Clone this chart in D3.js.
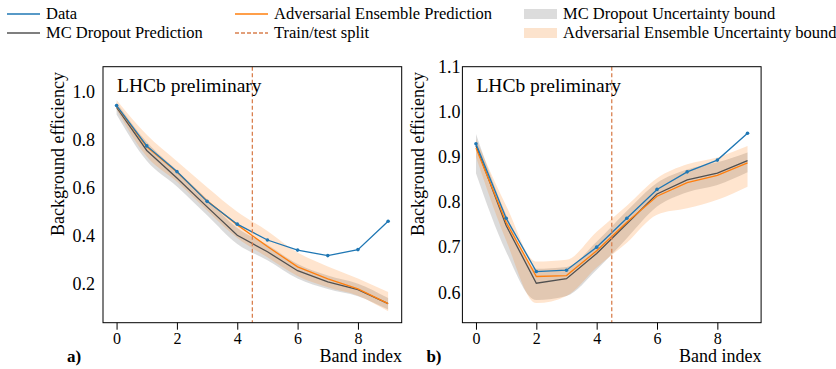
<!DOCTYPE html>
<html><head><meta charset="utf-8">
<script src="https://cdn.jsdelivr.net/npm/d3@7/dist/d3.min.js"></script>
<style>body{margin:0;background:#fff}svg{display:block}svg text{font-family:'Liberation Serif','Times New Roman',Times,'DejaVu Serif',serif !important}</style>
</head><body><svg id="c" width="836" height="369"></svg>
<script>
const bands = [0,1,2,3,4,5,6,7,8,9];
const xTicks = [0,2,4,6,8];
const splitAt = 4.5;
// panel a
const aData   = [0.942,0.774,0.667,0.543,0.448,0.382,0.340,0.317,0.342,0.460];
const aMC     = [0.935,0.755,0.640,0.520,0.402,0.333,0.254,0.208,0.175,0.117];
const aMCLo   = [0.905,0.712,0.605,0.485,0.365,0.298,0.222,0.178,0.148,0.092];
const aMCHi   = [0.955,0.790,0.672,0.552,0.432,0.362,0.282,0.234,0.200,0.140];
const aAdv    = [0.940,0.770,0.665,0.545,0.445,0.355,0.270,0.220,0.178,0.117];
const aAdvLo  = [0.925,0.730,0.625,0.505,0.390,0.310,0.232,0.185,0.150,0.085];
const aAdvHi  = [0.965,0.820,0.710,0.602,0.500,0.420,0.330,0.272,0.222,0.165];
const aYTicks = [0.2,0.4,0.6,0.8,1.0];
// panel b
const bData   = [0.929,0.764,0.646,0.649,0.700,0.764,0.828,0.867,0.893,0.9525];
const bMC     = [0.925,0.748,0.620,0.630,0.686,0.752,0.818,0.849,0.864,0.892];
const bMCLo   = [0.864,0.690,0.583,0.592,0.650,0.720,0.790,0.822,0.838,0.866];
const bMCHi   = [0.951,0.772,0.652,0.656,0.712,0.780,0.842,0.872,0.888,0.910];
const bAdv    = [0.920,0.755,0.635,0.637,0.692,0.755,0.813,0.843,0.859,0.887];
const bAdvLo  = [0.900,0.715,0.576,0.592,0.655,0.710,0.772,0.786,0.805,0.834];
const bAdvHi  = [0.940,0.792,0.668,0.672,0.734,0.792,0.853,0.884,0.899,0.924];
const bYTicks = [0.6,0.7,0.8,0.9,1.0,1.1];

const legendItems = [
  {label:"Data", type:"line", color:"#1f77b4"},
  {label:"MC Dropout Prediction", type:"line", color:"#555555"},
  {label:"Adversarial Ensemble Prediction", type:"line", color:"#ff7f0e"},
  {label:"Train/test split", type:"dash", color:"#d9804f"},
  {label:"MC Dropout Uncertainty bound", type:"patch", color:"#dcdcdc"},
  {label:"Adversarial Ensemble Uncertainty bound", type:"patch", color:"#fce3cd"}
];

const svg = d3.select("#c");
const plotTop = 66.7, plotBottom = 322.7, plotW = 298.7;

function panel(o){
  const x = d3.scaleLinear().domain([-0.45,9.45]).range([o.left, o.left+plotW]);
  const y = d3.scaleLinear().domain(o.yDomain).range([plotBottom, plotTop]);
  const g = svg.append("g");
  const clipId = "clip"+o.tag;
  svg.append("clipPath").attr("id",clipId).append("rect")
    .attr("x",o.left).attr("y",plotTop).attr("width",plotW).attr("height",plotBottom-plotTop);
  const pg = g.append("g").attr("clip-path",`url(#${clipId})`);
  const area = (lo,hi)=>d3.area().curve(d3.curveMonotoneX)
     .x((d,i)=>x(bands[i])).y0((d,i)=>y(lo[i])).y1((d,i)=>y(hi[i]))(bands);
  pg.append("path").attr("d",area(o.mcLo,o.mcHi)).attr("fill","#b8b8b8").attr("fill-opacity",0.5);
  pg.append("path").attr("d",area(o.advLo,o.advHi)).attr("fill","#ff7f0e").attr("fill-opacity",0.2);
  const line = arr=>d3.line().x((d,i)=>x(bands[i])).y((d,i)=>y(arr[i]))(bands);
  pg.append("path").attr("d",line(o.mc)).attr("fill","none").attr("stroke","#505050").attr("stroke-width",1.3);
  pg.append("path").attr("d",line(o.adv)).attr("fill","none").attr("stroke","#ff7f0e").attr("stroke-width",1.3);
  pg.append("path").attr("d",line(o.data)).attr("fill","none").attr("stroke","#1f77b4").attr("stroke-width",1.3);
  pg.selectAll("circle.d").data(o.data).join("circle").attr("cx",(d,i)=>x(bands[i])).attr("cy",d=>y(d)).attr("r",1.8).attr("fill","#1f77b4");
  pg.append("line").attr("x1",x(splitAt)).attr("x2",x(splitAt)).attr("y1",plotTop).attr("y2",plotBottom)
    .attr("stroke","#d9804f").attr("stroke-width",1.3).attr("stroke-dasharray","4,2.5");
  g.append("rect").attr("x",o.left).attr("y",plotTop).attr("width",plotW).attr("height",plotBottom-plotTop)
    .attr("fill","none").attr("stroke","#000").attr("stroke-width",1);
  const xa = g.append("g").attr("transform",`translate(0,${plotBottom})`)
    .call(d3.axisBottom(x).tickValues(xTicks).tickFormat(d3.format("d")).tickSize(7).tickPadding(3));
  xa.select(".domain").remove();
  xa.attr("font-family",null);
  xa.selectAll("text").attr("font-size",16).attr("fill","#000");
  xa.selectAll("line").attr("stroke","#000");
  const ya = g.append("g").attr("transform",`translate(${o.left},0)`)
    .call(d3.axisLeft(y).tickValues(o.yTicks).tickFormat(d3.format(".1f")).tickSize(0).tickPadding(o.ypad));
  ya.select(".domain").remove();
  ya.attr("font-family",null);
  ya.selectAll("text").attr("font-size",18).attr("fill","#000");
  g.append("text").attr("transform",`translate(${o.ylabX},154) rotate(-90)`).attr("text-anchor","middle")
    .attr("font-size",18).text("Background efficiency");
  g.append("text").attr("x",o.left+14).attr("y",91.5).attr("font-size",19.5).text("LHCb preliminary");
  g.append("text").attr("x",o.left+299).attr("y",362).attr("text-anchor","end").attr("font-size",18).text("Band index");
  g.append("text").attr("x",o.left-36).attr("y",362).attr("font-size",17).attr("font-weight","bold").text(o.tag+")");
}

panel({tag:"a", left:103, yDomain:[0.0375,1.104], yTicks:aYTicks, ypad:8, ylabX:64,
  data:aData, mc:aMC, mcLo:aMCLo, mcHi:aMCHi, adv:aAdv, advLo:aAdvLo, advHi:aAdvHi});
panel({tag:"b", left:462.4, yDomain:[0.5326,1.1], yTicks:bYTicks, ypad:2, ylabX:424,
  data:bData, mc:bMC, mcLo:bMCLo, mcHi:bMCHi, adv:bAdv, advLo:bAdvLo, advHi:bAdvHi});

const legPos = [[7,14],[7,33],[235,14],[235,33],[524,14],[524,33]];
const lg = svg.append("g");
legendItems.forEach((it,i)=>{
  const [lx,ly] = legPos[i];
  if(it.type==="patch"){
    lg.append("rect").attr("x",lx).attr("y",ly-5).attr("width",33).attr("height",10).attr("fill",it.color);
  } else {
    lg.append("line").attr("x1",lx).attr("x2",lx+33).attr("y1",ly).attr("y2",ly)
      .attr("stroke",it.color).attr("stroke-width",1.3)
      .attr("stroke-dasharray", it.type==="dash"?"4,2":null);
  }
  lg.append("text").attr("x",lx+39).attr("y",ly+5).attr("font-size",16.5).text(it.label);
});
</script></body></html>
